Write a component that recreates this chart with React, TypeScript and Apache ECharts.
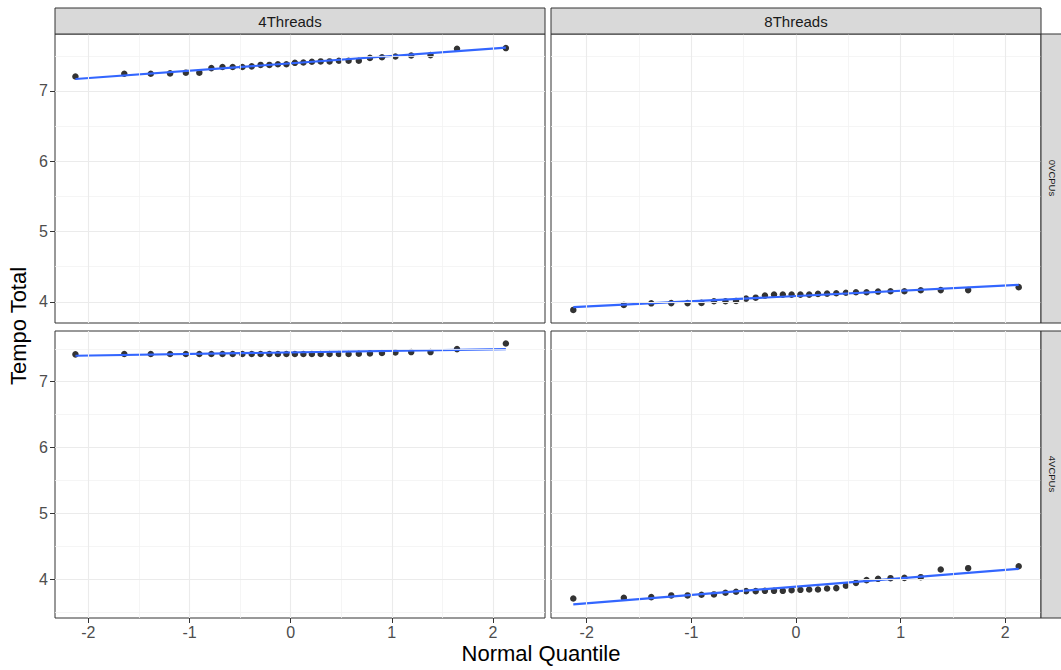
import React, { useEffect, useRef } from "react";
import * as echarts from "echarts";

const columns = ["4Threads", "8Threads"];
const rows = ["0VCPUs", "4VCPUs"];

// theoretical normal quantiles (n = 30)
const quantiles = [
  -2.128, -1.645, -1.383, -1.192, -1.036, -0.903, -0.784, -0.674, -0.573, -0.477,
  -0.385, -0.297, -0.21, -0.126, -0.042, 0.042, 0.126, 0.21, 0.297, 0.385,
  0.477, 0.573, 0.674, 0.784, 0.903, 1.036, 1.192, 1.383, 1.645, 2.128,
];

const tempo4T0V = [
  7.205, 7.245, 7.245, 7.25, 7.26, 7.26, 7.325, 7.34, 7.34, 7.34,
  7.35, 7.37, 7.37, 7.38, 7.38, 7.4, 7.405, 7.415, 7.42, 7.42,
  7.43, 7.43, 7.43, 7.47, 7.48, 7.49, 7.505, 7.51, 7.6, 7.61,
];
const tempo8T0V = [
  3.886, 3.957, 3.98, 3.983, 3.983, 3.986, 4.01, 4.01, 4.014, 4.047,
  4.06, 4.09, 4.104, 4.104, 4.104, 4.104, 4.104, 4.114, 4.118, 4.123,
  4.13, 4.137, 4.137, 4.147, 4.152, 4.152, 4.166, 4.168, 4.168, 4.21,
];
const tempo4T4V = [
  7.415, 7.42, 7.42, 7.42, 7.42, 7.42, 7.42, 7.42, 7.42, 7.42,
  7.42, 7.42, 7.42, 7.42, 7.42, 7.42, 7.42, 7.42, 7.42, 7.42,
  7.42, 7.42, 7.425, 7.43, 7.435, 7.445, 7.45, 7.45, 7.495, 7.58,
];
const tempo8T4V = [
  3.707, 3.717, 3.727, 3.753, 3.753, 3.763, 3.768, 3.793, 3.808, 3.818,
  3.818, 3.823, 3.823, 3.823, 3.833, 3.838, 3.843, 3.843, 3.858, 3.864,
  3.9, 3.944, 3.985, 4.005, 4.015, 4.02, 4.03, 4.147, 4.167, 4.197,
];

// fitted line values at the first and last quantile
const fit4T0V = [7.17, 7.615];
const fit8T0V = [3.925, 4.242];
const fit4T4V = [7.394, 7.495];
const fit8T4V = [3.617, 4.156];

const xTicks = [-2, -1, 0, 1, 2];
const xMinor = [-1.5, -0.5, 0.5, 1.5];
const yTicks = [4, 5, 6, 7];
const yMinorTop = [4.5, 5.5, 6.5, 7.5];
const yMinorBottom = [3.5, 4.5, 5.5, 6.5, 7.5];

const xRanges = [
  [-2.33, 2.515],
  [-2.341, 2.341],
];
const yRanges = [
  [3.7, 7.81],
  [3.41, 7.77],
];

const panelValues = [tempo4T0V, tempo8T0V, tempo4T4V, tempo8T4V];
const panelFits = [fit4T0V, fit8T0V, fit4T4V, fit8T4V];

const FONT = "'Liberation Sans', Arial, sans-serif";

const gridBoxes = [
  { left: 55, top: 34, width: 490, height: 289 },
  { left: 551, top: 34, width: 490, height: 289 },
  { left: 55, top: 331, width: 490, height: 287 },
  { left: 551, top: 331, width: 490, height: 287 },
];

function buildOption() {
  const grid: any[] = [];
  const xAxis: any[] = [];
  const yAxis: any[] = [];
  const series: any[] = [];

  for (let p = 0; p < 4; p++) {
    const r = Math.floor(p / 2);
    const c = p % 2;
    grid.push({
      ...gridBoxes[p],
      show: true,
      backgroundColor: "#FFFFFF",
      borderColor: "#333333",
      borderWidth: 1,
      containLabel: false,
      outerBoundsMode: "none",
    });
    xAxis.push({
      type: "value",
      gridIndex: p,
      min: xRanges[c][0],
      max: xRanges[c][1],
      axisLine: { show: false, onZero: false },
      splitLine: { show: false },
      axisTick: {
        show: r === 1,
        customValues: xTicks,
        length: 5,
        lineStyle: { color: "#333333", width: 1 },
      },
      axisLabel: {
        show: r === 1,
        customValues: xTicks,
        color: "#4D4D4D",
        fontSize: 16,
        fontFamily: FONT,
        margin: 6,
        showMinLabel: true,
        showMaxLabel: true,
      },
    });
    yAxis.push({
      type: "value",
      gridIndex: p,
      min: yRanges[r][0],
      max: yRanges[r][1],
      axisLine: { show: false, onZero: false },
      splitLine: { show: false },
      axisTick: {
        show: c === 0,
        customValues: yTicks,
        length: 5,
        lineStyle: { color: "#333333", width: 1 },
      },
      axisLabel: {
        show: c === 0,
        customValues: yTicks,
        color: "#4D4D4D",
        fontSize: 16,
        fontFamily: FONT,
        margin: 7,
      },
    });

    const major = { color: "#EBEBEB", width: 1.1, type: "solid" };
    const minor = { color: "#F2F2F2", width: 0.8, type: "solid" };
    const yMinor = r === 0 ? yMinorTop : yMinorBottom;
    series.push({
      type: "line",
      xAxisIndex: p,
      yAxisIndex: p,
      data: [],
      z: 1,
      silent: true,
      markLine: {
        silent: true,
        symbol: ["none", "none"],
        label: { show: false },
        emphasis: { disabled: true },
        data: [
          ...xMinor.map((v) => ({ xAxis: v, lineStyle: minor })),
          ...yMinor.map((v) => ({ yAxis: v, lineStyle: minor })),
          ...xTicks.map((v) => ({ xAxis: v, lineStyle: major })),
          ...yTicks.map((v) => ({ yAxis: v, lineStyle: major })),
        ],
      },
    });
    series.push({
      type: "scatter",
      xAxisIndex: p,
      yAxisIndex: p,
      data: quantiles.map((q, i) => [q, panelValues[p][i]]),
      symbolSize: 6.5,
      itemStyle: { color: "#000000" },
      z: 3,
      silent: true,
    });
    series.push({
      type: "line",
      xAxisIndex: p,
      yAxisIndex: p,
      data: [
        [quantiles[0], panelFits[p][0]],
        [quantiles[quantiles.length - 1], panelFits[p][1]],
      ],
      showSymbol: false,
      symbol: "none",
      lineStyle: { color: "#3366FF", width: 2.2 },
      emphasis: { disabled: true },
      z: 4,
      silent: true,
    });
  }

  const stripStyle = { fill: "#D9D9D9", stroke: "#333333", lineWidth: 1 };
  const graphic: any[] = [
    { type: "rect", shape: { x: 55, y: 8, width: 490, height: 26 }, style: stripStyle, z: 10 },
    { type: "rect", shape: { x: 551, y: 8, width: 490, height: 26 }, style: stripStyle, z: 10 },
    { type: "rect", shape: { x: 1041, y: 34, width: 30, height: 289 }, style: stripStyle, z: 10 },
    { type: "rect", shape: { x: 1041, y: 331, width: 30, height: 287 }, style: stripStyle, z: 10 },
    {
      type: "text", x: 290, y: 21, z: 11,
      style: { text: columns[0], fill: "#1A1A1A", fontSize: 15, fontFamily: FONT, align: "center", verticalAlign: "middle" },
    },
    {
      type: "text", x: 796, y: 21, z: 11,
      style: { text: columns[1], fill: "#1A1A1A", fontSize: 15, fontFamily: FONT, align: "center", verticalAlign: "middle" },
    },
    {
      type: "text", x: 1052, y: 178, rotation: -Math.PI / 2, z: 11,
      style: { text: rows[0], fill: "#1A1A1A", fontSize: 9.5, fontFamily: FONT, align: "center", verticalAlign: "middle" },
    },
    {
      type: "text", x: 1052, y: 474, rotation: -Math.PI / 2, z: 11,
      style: { text: rows[1], fill: "#1A1A1A", fontSize: 9.5, fontFamily: FONT, align: "center", verticalAlign: "middle" },
    },
    {
      type: "text", x: 18, y: 326, rotation: Math.PI / 2, z: 11,
      style: { text: "Tempo Total", fill: "#000000", fontSize: 22, fontFamily: FONT, align: "center", verticalAlign: "middle" },
    },
    {
      type: "text", x: 541, y: 653, z: 11,
      style: { text: "Normal Quantile", fill: "#000000", fontSize: 22, fontFamily: FONT, align: "center", verticalAlign: "middle" },
    },
  ];

  return {
    animation: false,
    backgroundColor: "#FFFFFF",
    grid,
    xAxis,
    yAxis,
    series,
    graphic,
  };
}

export default function App() {
  const ref = useRef<HTMLDivElement>(null);
  useEffect(() => {
    if (!ref.current) return;
    document.body.style.margin = "0";
    const chart = echarts.init(ref.current, undefined, { renderer: "svg" });
    chart.setOption(buildOption() as any);
    return () => chart.dispose();
  }, []);
  return (
    <div
      ref={ref}
      style={{ position: "absolute", left: 0, top: 0, width: 1061, height: 670, background: "#fff" }}
    />
  );
}
